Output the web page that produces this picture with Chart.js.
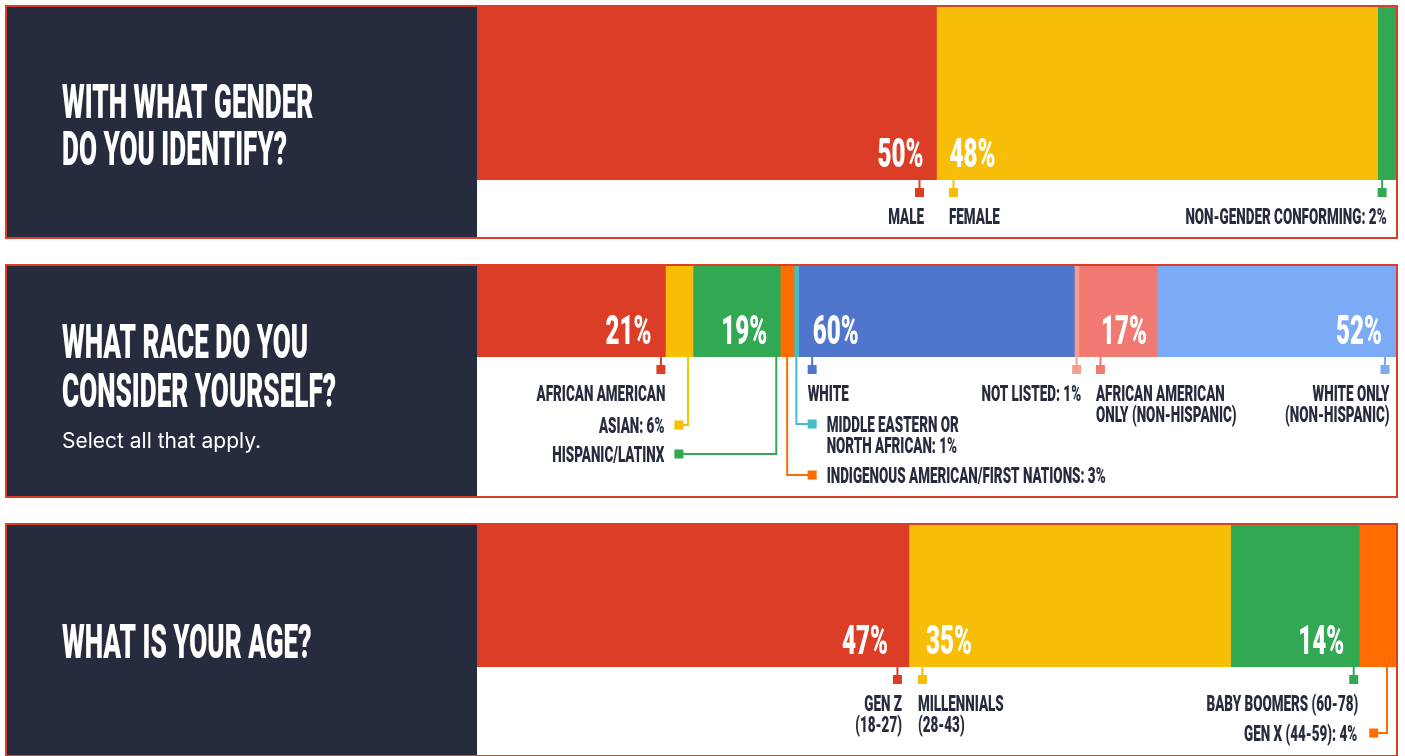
<!DOCTYPE html>
<html>
<head>
<meta charset="utf-8">
<script src="https://cdn.jsdelivr.net/npm/chart.js@4.4.1/dist/chart.umd.min.js"></script>
<style>
    html, body { margin: 0; padding: 0; background: #fff; width: 1405px; height: 756px; overflow: hidden; }
    .panel { position: absolute; left: 5px; width: 1393px; height: 234px; }
</style>
</head>
<body>
<div class="panel" style="top:5px"><canvas id="gender-chart"></canvas></div>
<div class="panel" style="top:264px"><canvas id="race-chart"></canvas></div>
<div class="panel" style="top:523px"><canvas id="age-chart"></canvas></div>
<script>
// ---- data ----
const genderCategories = ['MALE', 'FEMALE', 'NON-GENDER CONFORMING'];
const genderValues = [50, 48, 2];

const raceCategories = [
    'AFRICAN AMERICAN', 'ASIAN', 'HISPANIC/LATINX', 'INDIGENOUS AMERICAN/FIRST NATIONS',
    'MIDDLE EASTERN OR\nNORTH AFRICAN', 'WHITE', 'NOT LISTED',
    'AFRICAN AMERICAN\nONLY (NON-HISPANIC)', 'WHITE ONLY\n(NON-HISPANIC)'
];
const raceValues = [21, 6, 19, 3, 1, 60, 1, 17, 52];
// segment lengths as drawn in the source (African American bar is drawn ~2x its share)
const raceBarWidths = [41, 6, 19, 3, 1, 60, 1, 17, 52];

const ageCategories = ['GEN Z\n(18-27)', 'MILLENNIALS\n(28-43)', 'BABY BOOMERS (60-78)', 'GEN X (44-59)'];
const ageValues = [47, 35, 14, 4];

// ---- style ----
const RED = '#db3d26', YELLOW = '#f8bd06', GREEN = '#33a853', ORANGE = '#ff6d00';
const CYAN = '#46bdc6', BLUE = '#4f75cc', SALMON = '#f59e90', PINK = '#f07a72', LIGHTBLUE = '#7baaf6';
const NAVY = '#262c3d';
const FONT = 'Roboto, "Liberation Sans", sans-serif';
const WEIGHT = 900;
const PANEL_H = 234;
const DARK_W = 470;

// the source uses a tall condensed face: squeeze a heavy sans to the same widths
function squeeze(size, sample, width) {
    const c = document.createElement('canvas').getContext('2d');
    c.font = `${WEIGHT} ${size}px ${FONT}`;
    return width / c.measureText(sample).width;
}
const TITLE = { size: 48, cap: 34.5, sx: squeeze(48, 'CONSIDER YOURSELF?', 274) };
const PCT = { size: 40, cap: 28.5, sx: squeeze(40, '60%', 46) };
const LABEL = { size: 21.5, cap: 15.3, sx: squeeze(21.5, 'INDIGENOUS AMERICAN/FIRST NATIONS: 3%', 279) };

function squeezeText(ctx, text, x, y, f, align, color) {
    ctx.save();
    ctx.font = `${WEIGHT} ${f.size}px ${FONT}`;
    ctx.fillStyle = color;
    ctx.textAlign = align;
    ctx.textBaseline = 'alphabetic';
    ctx.translate(x, y);
    ctx.scale(f.sx, 1);
    ctx.fillText(text, 0, 0);
    ctx.restore();
}

function edgeX(chart, i, edge) {
    const bar = chart.getDatasetMeta(i).data[0];
    const a = Math.min(bar.base, bar.x), b = Math.max(bar.base, bar.x);
    if (edge === 'start') { return a; }
    if (edge === 'end') { return b; }
    return (a + b) / 2;
}

function panelPlugin(cfg) {
    return {
        id: 'panel',
        beforeDraw(chart) {
            const ctx = chart.ctx;
            ctx.save();
            ctx.fillStyle = '#fff';
            ctx.fillRect(0, 0, chart.width, chart.height);
            ctx.fillStyle = NAVY;
            ctx.fillRect(2, 2, DARK_W, chart.height - 4);
            ctx.restore();
            cfg.title.forEach((t, k) => squeezeText(ctx, t, 57, cfg.titleBase[k], TITLE, 'left', '#fff'));
            if (cfg.subtitle) {
                ctx.save();
                ctx.font = `400 21px Inter, ${FONT}`;
                ctx.fillStyle = '#fff';
                ctx.textBaseline = 'alphabetic';
                ctx.fillText(cfg.subtitle, 57, cfg.subtitleBase);
                ctx.restore();
            }
        },
        afterDatasetsDraw(chart) {
            const ctx = chart.ctx;
            const bottom = chart.chartArea.bottom;
            cfg.notes.forEach((n, i) => {
                const color = cfg.colors[i];
                const lines = cfg.categories[i].split('\n');
                if (n.pct) {
                    const atEnd = n.pct[0] === 'end';
                    const x = atEnd ? edgeX(chart, i, 'end') - n.pct[1] : edgeX(chart, i, 'start') + n.pct[1];
                    squeezeText(ctx, cfg.values[i] + '%', x, bottom - 13, PCT, atEnd ? 'right' : 'left', '#fff');
                } else {
                    lines[lines.length - 1] += ': ' + cfg.values[i] + '%';
                }
                const [edge, off, ref = i] = n.mark;
                const mx = edgeX(chart, ref, edge) + off;
                ctx.save();
                ctx.fillStyle = color;
                ctx.strokeStyle = color;
                ctx.lineWidth = 2;
                let tx, ty;
                if (n.stem) {
                    const sx = edgeX(chart, i, n.stem[0]) + n.stem[1];
                    const cy = bottom + n.row;
                    ctx.beginPath();
                    ctx.moveTo(sx, bottom);
                    ctx.lineTo(sx, cy);
                    ctx.lineTo(mx, cy);
                    ctx.stroke();
                    ctx.fillRect(mx - 4.5, cy - 4.5, 9, 9);
                    const gap = n.gap || 10;
                    tx = n.align === 'right' ? mx - 4.5 - gap : mx + 4.5 + gap;
                    ty = cy + LABEL.cap / 2;
                } else {
                    ctx.beginPath();
                    ctx.moveTo(mx, bottom);
                    ctx.lineTo(mx, bottom + 8);
                    ctx.stroke();
                    ctx.fillRect(mx - 4.5, bottom + 8, 9, 9);
                    tx = n.align === 'right' ? mx + 4.5 : mx - 4.5;
                    ty = bottom + 44;
                }
                ctx.restore();
                lines.forEach((t, k) => squeezeText(ctx, t, tx, ty + k * 21, LABEL, n.align, NAVY));
            });
        },
        afterDraw(chart) {
            const ctx = chart.ctx;
            ctx.save();
            ctx.strokeStyle = RED;
            ctx.lineWidth = 2;
            ctx.strokeRect(1, 1, chart.width - 2, chart.height - 2);
            ctx.restore();
        }
    };
}

function makePanel(id, cfg) {
    const el = document.getElementById(id);
    if (!el) { return null; }
    const total = cfg.widths.reduce((a, b) => a + b, 0);
    return new Chart(el, {
        type: 'bar',
        data: {
            labels: [''],
            datasets: cfg.widths.map((w, i) => ({
                label: cfg.categories[i],
                data: [w],
                backgroundColor: cfg.colors[i],
                borderWidth: 0,
                barPercentage: 1,
                categoryPercentage: 1,
            }))
        },
        options: {
            indexAxis: 'y',
            responsive: true,
            maintainAspectRatio: false,
            animation: false,
            events: [],
            layout: { padding: { left: DARK_W + 2, top: 2, right: 2, bottom: PANEL_H - 2 - cfg.barHeight } },
            scales: {
                x: { type: 'linear', min: 0, max: total, stacked: true, display: false },
                y: { stacked: true, display: false },
            },
            plugins: { legend: { display: false }, tooltip: { enabled: false } },
        },
        plugins: [panelPlugin(cfg)],
    });
}

makePanel('gender-chart', {
    barHeight: 173,
    title: ['WITH WHAT GENDER', 'DO YOU IDENTIFY?'],
    titleBase: [113, 160],
    categories: genderCategories,
    values: genderValues,
    widths: genderValues,
    colors: [RED, YELLOW, GREEN],
    notes: [
        { pct: ['end', 13], mark: ['end', -17], align: 'right' },
        { pct: ['start', 13], mark: ['start', 17], align: 'left' },
        { mark: ['start', 4.5], align: 'right' },
    ],
});

makePanel('race-chart', {
    barHeight: 91,
    title: ['WHAT RACE DO YOU', 'CONSIDER YOURSELF?'],
    titleBase: [94, 143],
    subtitle: 'Select all that apply.',
    subtitleBase: 184,
    categories: raceCategories,
    values: raceValues,
    widths: raceBarWidths,
    colors: [RED, YELLOW, GREEN, ORANGE, CYAN, BLUE, SALMON, PINK, LIGHTBLUE],
    notes: [
        { pct: ['end', 14], mark: ['end', -4.5], align: 'right' },
        { stem: ['end', -5], row: 68, mark: ['end', 13.5, 0], align: 'right' },
        { pct: ['end', 13], stem: ['end', -4], row: 97, mark: ['end', 13.5, 0], align: 'right' },
        { stem: ['mid', 0], row: 118, mark: ['start', 13.5, 5], align: 'left' },
        { stem: ['mid', 0], row: 67, mark: ['start', 13.5, 5], align: 'left' },
        { pct: ['start', 14], mark: ['start', 13.5], align: 'left' },
        { mark: ['mid', 0], align: 'right' },
        { pct: ['start', 22], mark: ['start', 21.5], align: 'left' },
        { pct: ['end', 14], mark: ['end', -11], align: 'right' },
    ],
});

makePanel('age-chart', {
    barHeight: 142,
    title: ['WHAT IS YOUR AGE?'],
    titleBase: [135],
    categories: ageCategories,
    values: ageValues,
    widths: ageValues,
    colors: [RED, YELLOW, GREEN, ORANGE],
    notes: [
        { pct: ['end', 21], mark: ['end', -11.5], align: 'right' },
        { pct: ['start', 17], mark: ['start', 13.5], align: 'left' },
        { pct: ['end', 15], mark: ['end', -5.5], align: 'right' },
        { stem: ['end', -9], row: 66, mark: ['end', 14.5, 2], align: 'right', gap: 12 },
    ],
});
</script>
</body>
</html>
